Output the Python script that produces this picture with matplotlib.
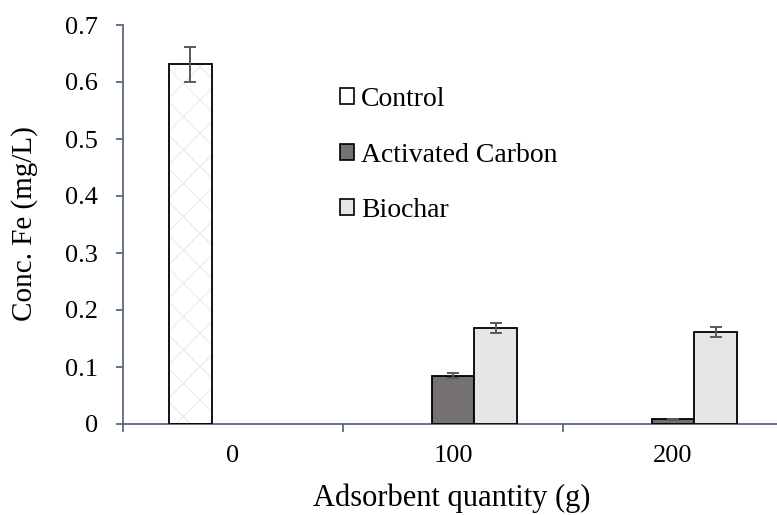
import matplotlib
matplotlib.use("Agg")
import matplotlib.patches as mpatches
import matplotlib.pyplot as plt
import numpy as np

plt.rcParams["font.family"] = ["Liberation Serif", "DejaVu Serif"]
plt.rcParams["hatch.linewidth"] = 1.0

categories = ["0", "100", "200"]
series_names = ["Control", "Activated Carbon", "Biochar"]
control = [0.631, np.nan, np.nan]
control_err = [0.031, np.nan, np.nan]
activated = [np.nan, 0.085, 0.008]
activated_err = [np.nan, 0.0045, 0.001]
biochar = [np.nan, 0.169, 0.161]
biochar_err = [np.nan, 0.009, 0.0088]

axis_color = "#5A6A82"
err_color = "#595959"
face_colors = ["white", "#767171", "#E7E6E6"]
width = 0.195
offsets = [-width, 0, width]

fig = plt.figure(figsize=(7.77, 5.15), dpi=100)
ax = fig.add_axes([123 / 777, 1 - 424 / 515, 660 / 777, 399 / 515])

x = np.arange(len(categories))
all_vals = [control, activated, biochar]
all_errs = [control_err, activated_err, biochar_err]

for i, (vals, errs) in enumerate(zip(all_vals, all_errs)):
    vals = np.asarray(vals, dtype=float)
    errs = np.asarray(errs, dtype=float)
    keep = ~np.isnan(vals)
    xpos = x[keep] + offsets[i]
    if i == 0:
        # very light diamond pattern, then the black outline on top
        ax.bar(xpos, vals[keep], width=width, color="white", edgecolor="#EDEDED",
               hatch="x", linewidth=0, zorder=2)
        ax.bar(xpos, vals[keep], width=width, fill=False, edgecolor="black",
               linewidth=1.3, zorder=3)
    else:
        ax.bar(xpos, vals[keep], width=width, color=face_colors[i], edgecolor="black",
               linewidth=1.3, zorder=3)
    ax.errorbar(xpos, vals[keep], yerr=errs[keep], fmt="none", ecolor=err_color,
                elinewidth=1.4, capsize=4.5, capthick=1.4, zorder=4)

ax.set_xlim(-0.5, 2.5)
ax.set_ylim(0, 0.7)
ax.set_yticks(np.arange(0, 0.71, 0.1))
ax.yaxis.set_major_formatter(plt.FuncFormatter(lambda v, _: "0" if abs(v) < 1e-9 else f"{v:.1f}"))
ax.set_xticks(x)
ax.set_xticklabels(categories)
ax.set_xticks([-0.5, 0.5, 1.5, 2.5], minor=True)

ax.tick_params(axis="x", which="major", length=0, pad=15, labelsize=19)
ax.tick_params(axis="x", which="minor", length=6, width=1.3, color=axis_color, direction="out")
ax.tick_params(axis="y", length=5, width=1.3, color=axis_color, direction="out", pad=13, labelsize=19)

for side in ["top", "right"]:
    ax.spines[side].set_visible(False)
for side in ["left", "bottom"]:
    ax.spines[side].set_color(axis_color)
    ax.spines[side].set_linewidth(1.3)

fig.text(25 / 777, 1 - 224 / 515, "Conc. Fe (mg/L)", rotation=90, ha="center", va="center", fontsize=21)
fig.text(452 / 777, 1 - 498 / 515, "Adsorbent quantity (g)", ha="center", va="center", fontsize=22)

handles = [mpatches.Patch(facecolor=c, edgecolor="black", linewidth=1.2, label=n)
           for c, n in zip(face_colors, series_names)]
ax.legend(handles=handles, loc="upper left", bbox_to_anchor=(340 / 777, 1 - 87 / 515),
          bbox_transform=fig.transFigure, frameon=False, fontsize=20,
          handlelength=0.5, handleheight=0.5, handletextpad=0.25,
          labelspacing=1.1, borderpad=0, borderaxespad=0)

fig.savefig("out.png", dpi=100)
